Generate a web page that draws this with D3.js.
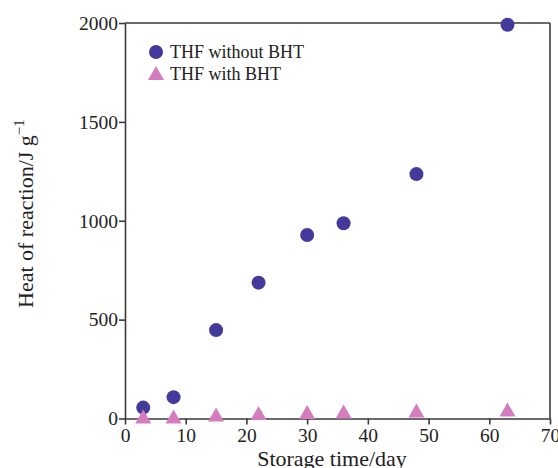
<!DOCTYPE html>
<html>
<head>
<meta charset="utf-8">
<script src="https://cdn.jsdelivr.net/npm/d3@7/dist/d3.min.js"></script>
<style>
  html, body { margin: 0; padding: 0; background: #fff; }
  svg { display: block; }
  text { font-family: "Liberation Serif", "Times New Roman", serif; fill: #222; }
</style>
</head>
<body>
<svg id="chart" width="558" height="468"></svg>
<script>
// ---- data ----
const days = [3, 8, 15, 22, 30, 36, 48, 63];
const withoutBHT = [55, 108, 447, 687, 928, 987, 1236, 1991];
const withBHT = [10, 10, 20, 28, 33, 35, 40, 45];
const seriesNames = ["THF without BHT", "THF with BHT"];
const xTicks = [0, 10, 20, 30, 40, 50, 60, 70];
const yTicks = [0, 500, 1000, 1500, 2000];

const colors = ["#443a9c", "#d57cbf"];

const svg = d3.select("#chart");
const mLeft = 125, mRight = 550, mTop = 23, mBottom = 418.5;

const x = d3.scaleLinear().domain([0, 70]).range([mLeft, mRight]);
const y = d3.scaleLinear().domain([0, 2000]).range([mBottom, mTop]);

const axisColor = "#3a3a3a";

// frame top & right
svg.append("line").attr("x1", mLeft).attr("x2", mRight).attr("y1", mTop).attr("y2", mTop)
  .attr("stroke", axisColor).attr("stroke-width", 1.6);
svg.append("line").attr("x1", mRight).attr("x2", mRight).attr("y1", mTop).attr("y2", mBottom)
  .attr("stroke", axisColor).attr("stroke-width", 1.6);

const xAxis = svg.append("g").attr("transform", `translate(0,${mBottom})`)
  .call(d3.axisBottom(x).tickValues(xTicks).tickFormat(d3.format("d")).tickSize(6).tickPadding(4).tickSizeOuter(0));
const yAxis = svg.append("g").attr("transform", `translate(${mLeft},0)`)
  .call(d3.axisLeft(y).tickValues(yTicks).tickFormat(d3.format("d")).tickSize(6).tickPadding(1).tickSizeOuter(0));

[xAxis, yAxis].forEach(g => {
  g.attr("font-family", "Liberation Serif, serif");
  g.select(".domain").attr("stroke", axisColor).attr("stroke-width", 1.6);
  g.selectAll(".tick line").attr("stroke", axisColor).attr("stroke-width", 1.6);
  g.selectAll(".tick text").attr("font-family", "Liberation Serif, serif")
    .attr("font-size", "19.5px").attr("fill", "#222");
});

// triangle path centered on bounding box
function tri(cx, cy, w, h) {
  const p = d3.path();
  p.moveTo(cx, cy - h / 2);
  p.lineTo(cx + w / 2, cy + h / 2);
  p.lineTo(cx - w / 2, cy + h / 2);
  p.closePath();
  return p.toString();
}

// circles
svg.append("g").selectAll("circle").data(days).join("circle")
  .attr("cx", (d) => x(d))
  .attr("cy", (d, i) => y(withoutBHT[i]))
  .attr("r", 7)
  .attr("fill", colors[0]);

// triangles
svg.append("g").selectAll("path").data(days).join("path")
  .attr("d", (d, i) => tri(x(d), y(withBHT[i]), 16, 14))
  .attr("fill", colors[1]);

// legend
const leg = svg.append("g");
leg.append("circle").attr("cx", 156).attr("cy", 52).attr("r", 7).attr("fill", colors[0]);
leg.append("path").attr("d", tri(156, 73, 16, 14)).attr("fill", colors[1]);
leg.append("text").attr("x", 170).attr("y", 58).attr("font-size", "18px").text(seriesNames[0]);
leg.append("text").attr("x", 170).attr("y", 79.5).attr("font-size", "18px").text(seriesNames[1]);

// axis titles
svg.append("text").attr("x", 332).attr("y", 466).attr("text-anchor", "middle")
  .attr("font-size", "22px").text("Storage time/day");

const yl = svg.append("text").attr("transform", "translate(33,308) rotate(-90)")
  .attr("text-anchor", "start").attr("font-size", "22px");
yl.append("tspan").text("Heat of reaction/J g");
yl.append("tspan").attr("dy", "-9").attr("font-size", "15px").text("\u22121");
</script>
</body>
</html>
